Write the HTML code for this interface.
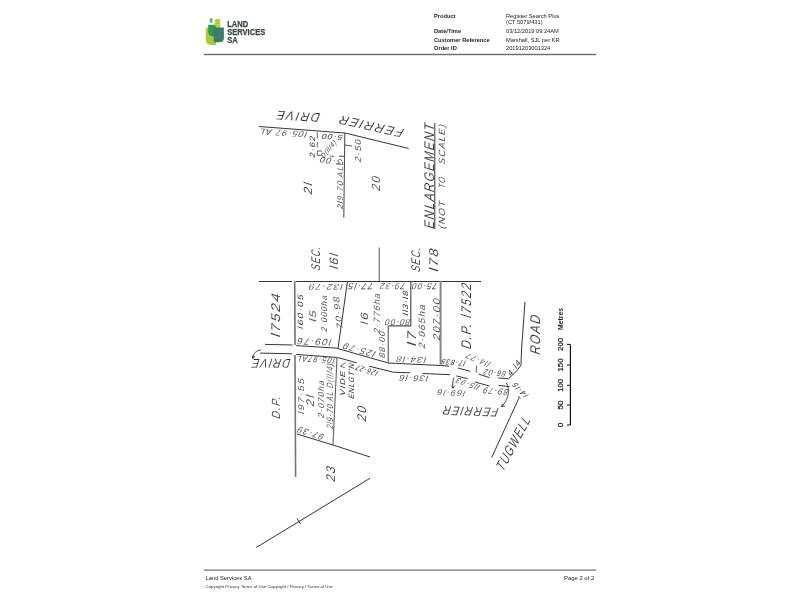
<!DOCTYPE html>
<html><head><meta charset="utf-8"><style>
html,body{margin:0;padding:0;background:#fff;}
body{width:800px;height:600px;position:relative;overflow:hidden;font-family:"Liberation Sans",sans-serif;}
svg{position:absolute;left:0;top:0;will-change:transform;}
svg text{font-family:"Liberation Sans",sans-serif;}
</style></head><body>
<svg width="800" height="600" viewBox="0 0 800 600">
<path d="M205.8,29.4 Q205.8,27.6 207.6,27.6 H216.2 V44.9 H211.2 Q205.8,44.9 205.8,39.2 Z" fill="#a8cb3c"/>
<path d="M214.6,21 Q214.9,19.1 216.8,19.1 H219.9 Q220.1,19.1 220.1,20 V28 H214.1 Z" fill="#b3d336"/>
<path d="M208.2,24.8 H213.2 Q215.9,24.8 215.9,27.6 V37.6 L211.3,35.9 Q208.2,35 208.2,32.2 Z" fill="#2f9a48"/>
<path d="M213.8,27.6 H223.9 V38.2 Q223.9,42.3 219.6,42.3 H213.8 Z" fill="#3d7c6d"/>
<rect x="209.7" y="18" width="2.9" height="4.8" rx="1.1" fill="#8aa38b"/>
<g fill="#3b4348" stroke="#3b4348" stroke-width="0.25" font-size="8.4" font-weight="bold">
<text x="227.2" y="27" textLength="21" lengthAdjust="spacingAndGlyphs">LAND</text>
<text x="227.2" y="34.8" textLength="38" lengthAdjust="spacingAndGlyphs">SERVICES</text>
<text x="227.2" y="42.6" textLength="10.5" lengthAdjust="spacingAndGlyphs">SA</text>
</g>
<rect x="204" y="53.8" width="392" height="1.4" fill="#6b6b6b"/>
<rect x="204" y="569.5" width="392" height="1.3" fill="#7a7a7a"/>
<g font-size="5.7" fill="#222">
<text x="434" y="17.9" font-weight="bold">Product</text>
<text x="434" y="33" font-weight="bold">Date/Time</text>
<text x="434" y="41.5" font-weight="bold">Customer Reference</text>
<text x="434" y="50" font-weight="bold">Order ID</text>
<text x="506" y="17.9">Register Search Plus</text>
<text x="506" y="23.7">(CT 5079/431)</text>
<text x="506" y="33">03/12/2019 09:24AM</text>
<text x="506" y="41.5">Marshall, SJL per KR</text>
<text x="506" y="50">20191203001324</text>
</g>
<text x="205.5" y="580" font-size="5.8" fill="#222">Land Services SA</text>
<text x="205.5" y="588" font-size="4.35" fill="#333">Copyright Privacy Terms of Use Copyright / Privacy / Terms of Use</text>
<text x="594.2" y="580.3" font-size="5.9" fill="#222" text-anchor="end">Page 2 of 2</text>
<polyline points="259,126.5 345,133 408.7,148.5" fill="none" stroke="#333333" stroke-width="1" />
<polyline points="344.8,133 343.8,217.5" fill="none" stroke="#505050" stroke-width="1.1" />
<text transform="translate(298 116.5) rotate(183) skewX(-18)" x="0.75" y="4.50" font-size="12.57" text-anchor="middle" fill="#303030" letter-spacing="1.51" textLength="44.51" lengthAdjust="spacingAndGlyphs" stroke="#fff" stroke-width="0.1">DRIVE</text>
<text transform="translate(371 126.5) rotate(192.4) skewX(-18)" x="0.75" y="4.50" font-size="12.57" text-anchor="middle" fill="#303030" letter-spacing="1.51" textLength="66.51" lengthAdjust="spacingAndGlyphs" stroke="#fff" stroke-width="0.1">FERRIER</text>
<text transform="translate(283 133) rotate(184) skewX(-18)" x="0.53" y="3.15" font-size="8.80" text-anchor="middle" fill="#303030" letter-spacing="1.06" textLength="48.56" lengthAdjust="spacingAndGlyphs" stroke="#fff" stroke-width="0.1">l05·97 AL</text>
<text transform="translate(312 146.5) rotate(-90) skewX(-18)" x="0.46" y="2.75" font-size="7.68" text-anchor="middle" fill="#303030" letter-spacing="0.92" textLength="22.52" lengthAdjust="spacingAndGlyphs">2·62</text>
<text transform="translate(332 137) rotate(184) skewX(-18)" x="0.46" y="2.75" font-size="7.68" text-anchor="middle" fill="#303030" letter-spacing="0.92" textLength="21.92" lengthAdjust="spacingAndGlyphs">5·00</text>
<text transform="translate(330.7 161) rotate(188) skewX(-18)" x="0.50" y="3.00" font-size="8.38" text-anchor="middle" fill="#303030" letter-spacing="1.01" textLength="23.01" lengthAdjust="spacingAndGlyphs" stroke="#fff" stroke-width="0.1">3·00</text>
<text transform="translate(328.5 149) rotate(-50) skewX(-18)" x="0.42" y="2.50" font-size="6.98" text-anchor="middle" fill="#303030" letter-spacing="0.84" textLength="20.84" lengthAdjust="spacingAndGlyphs">D(ll/4)</text>
<polyline points="317.3,132 317.3,138.7" fill="none" stroke="#555" stroke-width="0.9" />
<polyline points="317.3,142 317.3,147.3" fill="none" stroke="#555" stroke-width="0.9" />
<polyline points="322.3,151 317.3,151 317.3,155.3 322.3,155.3" fill="none" stroke="#555" stroke-width="0.9" />
<polyline points="329.7,156.3 334.3,156.3" fill="none" stroke="#555" stroke-width="0.9" />
<polyline points="339,156.3 345,156.3" fill="none" stroke="#555" stroke-width="1.1" />
<text transform="translate(358.3 150.3) rotate(-90) skewX(-18)" x="0.53" y="3.15" font-size="8.80" text-anchor="middle" fill="#303030" letter-spacing="1.06" textLength="23.76" lengthAdjust="spacingAndGlyphs" stroke="#fff" stroke-width="0.1">2·50</text>
<polyline points="345,145 352,146" fill="none" stroke="#333333" stroke-width="0.8" />
<text transform="translate(308 188) rotate(-90) skewX(-18)" x="0.71" y="4.25" font-size="11.87" text-anchor="middle" fill="#303030" letter-spacing="1.42" textLength="12.92" lengthAdjust="spacingAndGlyphs" stroke="#fff" stroke-width="0.1">2l</text>
<text transform="translate(340.3 184.5) rotate(-90) skewX(-18)" x="0.50" y="3.00" font-size="8.38" text-anchor="middle" fill="#303030" letter-spacing="1.01" textLength="49.01" lengthAdjust="spacingAndGlyphs" stroke="#fff" stroke-width="0.1">2l9·70 ALL</text>
<text transform="translate(376 183) rotate(-90) skewX(-18)" x="0.71" y="4.25" font-size="11.87" text-anchor="middle" fill="#303030" letter-spacing="1.42" textLength="15.42" lengthAdjust="spacingAndGlyphs" stroke="#fff" stroke-width="0.1">20</text>
<text transform="translate(428.9 175.7) rotate(-90) skewX(-18)" x="0.84" y="5.00" font-size="13.97" text-anchor="middle" fill="#303030" letter-spacing="1.68" textLength="106.68" lengthAdjust="spacingAndGlyphs" stroke="#fff" stroke-width="0.1">ENLARGEMENT</text>
<polyline points="434.8,123 434.8,229" fill="none" stroke="#333333" stroke-width="1" />
<text transform="translate(442 214.5) rotate(-90) skewX(-18)" x="0.54" y="3.25" font-size="9.08" text-anchor="middle" fill="#303030" letter-spacing="1.09" textLength="29.09" lengthAdjust="spacingAndGlyphs" stroke="#fff" stroke-width="0.1">(NOT</text>
<text transform="translate(442 182.5) rotate(-90) skewX(-18)" x="0.54" y="3.25" font-size="9.08" text-anchor="middle" fill="#303030" letter-spacing="1.09" textLength="12.09" lengthAdjust="spacingAndGlyphs" stroke="#fff" stroke-width="0.1">TO</text>
<text transform="translate(442 144) rotate(-90) skewX(-18)" x="0.54" y="3.25" font-size="9.08" text-anchor="middle" fill="#303030" letter-spacing="1.09" textLength="41.09" lengthAdjust="spacingAndGlyphs" stroke="#fff" stroke-width="0.1">SCALE)</text>
<polyline points="259,281.5 292,281.5" fill="none" stroke="#333333" stroke-width="1.1" />
<polyline points="296,281.5 481,281.5" fill="none" stroke="#333333" stroke-width="1.1" />
<polyline points="379.2,247.5 379.2,281" fill="none" stroke="#606060" stroke-width="1.1" />
<text transform="translate(315.5 258.2) rotate(-90) skewX(-18)" x="0.75" y="4.50" font-size="12.57" text-anchor="middle" fill="#303030" letter-spacing="1.51" textLength="24.51" lengthAdjust="spacingAndGlyphs" stroke="#fff" stroke-width="0.1">SEC.</text>
<text transform="translate(333.6 260.8) rotate(-90) skewX(-18)" x="0.73" y="4.35" font-size="12.15" text-anchor="middle" fill="#303030" letter-spacing="1.46" textLength="17.16" lengthAdjust="spacingAndGlyphs" stroke="#fff" stroke-width="0.1">l6l</text>
<text transform="translate(415 259.3) rotate(-90) skewX(-18)" x="0.75" y="4.50" font-size="12.57" text-anchor="middle" fill="#303030" letter-spacing="1.51" textLength="25.51" lengthAdjust="spacingAndGlyphs" stroke="#fff" stroke-width="0.1">SEC.</text>
<text transform="translate(433.5 259.5) rotate(-90) skewX(-18)" x="0.75" y="4.50" font-size="12.57" text-anchor="middle" fill="#303030" letter-spacing="1.51" textLength="24.51" lengthAdjust="spacingAndGlyphs" stroke="#fff" stroke-width="0.1">l78</text>
<text transform="translate(275.5 314.6) rotate(-90) skewX(-18)" x="0.75" y="4.50" font-size="12.57" text-anchor="middle" fill="#303030" letter-spacing="1.51" textLength="45.51" lengthAdjust="spacingAndGlyphs" stroke="#fff" stroke-width="0.1">l7524</text>
<polyline points="294.7,281 295,345" fill="none" stroke="#707070" stroke-width="1.6" />
<polyline points="295,355 295.6,477" fill="none" stroke="#757575" stroke-width="1.6" />
<polyline points="347.5,281 338,348.3" fill="none" stroke="#333333" stroke-width="1" />
<text transform="translate(325.5 286.8) rotate(180) skewX(-18)" x="0.50" y="3.00" font-size="8.38" text-anchor="middle" fill="#303030" letter-spacing="1.01" textLength="35.01" lengthAdjust="spacingAndGlyphs" stroke="#fff" stroke-width="0.1">l32·79</text>
<text transform="translate(300.2 311.3) rotate(-90) skewX(-18)" x="0.46" y="2.75" font-size="7.68" text-anchor="middle" fill="#303030" letter-spacing="0.92" textLength="35.42" lengthAdjust="spacingAndGlyphs">l60·05</text>
<text transform="translate(313 315.6) rotate(-90) skewX(-18)" x="0.57" y="3.40" font-size="9.50" text-anchor="middle" fill="#303030" letter-spacing="1.14" textLength="12.84" lengthAdjust="spacingAndGlyphs" stroke="#fff" stroke-width="0.1">l5</text>
<text transform="translate(323.5 313.3) rotate(-90) skewX(-18)" x="0.50" y="3.00" font-size="8.38" text-anchor="middle" fill="#303030" letter-spacing="1.01" textLength="37.01" lengthAdjust="spacingAndGlyphs" stroke="#fff" stroke-width="0.1">2·000ha</text>
<text transform="translate(337.8 312.5) rotate(-97) skewX(-18)" x="0.50" y="3.00" font-size="8.38" text-anchor="middle" fill="#303030" letter-spacing="1.01" textLength="34.01" lengthAdjust="spacingAndGlyphs" stroke="#fff" stroke-width="0.1">70·98</text>
<text transform="translate(360.5 286.5) rotate(180) skewX(-18)" x="0.54" y="3.25" font-size="9.08" text-anchor="middle" fill="#303030" letter-spacing="1.09" textLength="26.09" lengthAdjust="spacingAndGlyphs" stroke="#fff" stroke-width="0.1">77·l5</text>
<text transform="translate(392.5 286.5) rotate(180) skewX(-18)" x="0.54" y="3.25" font-size="9.08" text-anchor="middle" fill="#303030" letter-spacing="1.09" textLength="26.09" lengthAdjust="spacingAndGlyphs" stroke="#fff" stroke-width="0.1">79·32</text>
<text transform="translate(424.5 286.5) rotate(180) skewX(-18)" x="0.54" y="3.25" font-size="9.08" text-anchor="middle" fill="#303030" letter-spacing="1.09" textLength="26.09" lengthAdjust="spacingAndGlyphs" stroke="#fff" stroke-width="0.1">75·00</text>
<text transform="translate(364.5 318) rotate(-90) skewX(-18)" x="0.63" y="3.75" font-size="10.47" text-anchor="middle" fill="#303030" letter-spacing="1.26" textLength="13.76" lengthAdjust="spacingAndGlyphs" stroke="#fff" stroke-width="0.1">l6</text>
<text transform="translate(377 313) rotate(-90) skewX(-18)" x="0.54" y="3.25" font-size="9.08" text-anchor="middle" fill="#303030" letter-spacing="1.09" textLength="41.09" lengthAdjust="spacingAndGlyphs" stroke="#fff" stroke-width="0.1">2·776ha</text>
<text transform="translate(405.5 302.8) rotate(-90) skewX(-18)" x="0.46" y="2.75" font-size="7.68" text-anchor="middle" fill="#303030" letter-spacing="0.92" textLength="25.42" lengthAdjust="spacingAndGlyphs">ll3·l8</text>
<text transform="translate(397.5 322.5) rotate(180) skewX(-18)" x="0.54" y="3.25" font-size="9.08" text-anchor="middle" fill="#303030" letter-spacing="1.09" textLength="26.09" lengthAdjust="spacingAndGlyphs" stroke="#fff" stroke-width="0.1">80·00</text>
<polyline points="410.8,281 410.8,325.8 388.3,325.8" fill="none" stroke="#505050" stroke-width="1.2" />
<polyline points="388.3,325.8 388.3,362.5" fill="none" stroke="#808080" stroke-width="1.5" />
<polyline points="440.6,281 440.6,364.6" fill="none" stroke="#888" stroke-width="2" />
<text transform="translate(411 338) rotate(-90) skewX(-18)" x="0.75" y="4.50" font-size="12.57" text-anchor="middle" fill="#303030" letter-spacing="1.51" textLength="16.51" lengthAdjust="spacingAndGlyphs" stroke="#fff" stroke-width="0.1">l7</text>
<text transform="translate(421.5 326) rotate(-90) skewX(-18)" x="0.54" y="3.25" font-size="9.08" text-anchor="middle" fill="#303030" letter-spacing="1.09" textLength="45.09" lengthAdjust="spacingAndGlyphs" stroke="#fff" stroke-width="0.1">2·065ha</text>
<text transform="translate(436.5 319) rotate(-90) skewX(-18)" x="0.59" y="3.50" font-size="9.78" text-anchor="middle" fill="#303030" letter-spacing="1.17" textLength="43.17" lengthAdjust="spacingAndGlyphs" stroke="#fff" stroke-width="0.1">207·00</text>
<text transform="translate(465.8 315.8) rotate(-90) skewX(-18)" x="0.84" y="5.00" font-size="13.97" text-anchor="middle" fill="#303030" letter-spacing="1.68" textLength="66.68" lengthAdjust="spacingAndGlyphs" stroke="#fff" stroke-width="0.1">D.P. l7522</text>
<polyline points="265,344.4 292.5,345" fill="none" stroke="#333333" stroke-width="1" />
<polyline points="296.2,345.6 336.2,348.1 388.3,363 440.6,365.5 449,366.2" fill="none" stroke="#333333" stroke-width="1" />
<polyline points="458,368 470.4,371.4" fill="none" stroke="#333333" stroke-width="1" />
<polyline points="478.8,374.2 489.5,377.6" fill="none" stroke="#333333" stroke-width="1" />
<polyline points="498.5,378 508.6,378.7" fill="none" stroke="#333333" stroke-width="1" />
<path d="M508.6,378.4 C514,374 519,369 521,364.6 L521.5,350" fill="none" stroke="#333333" stroke-width="1" />
<polyline points="260,353.1 291.9,353.75" fill="none" stroke="#333333" stroke-width="1" />
<polyline points="296.2,354.4 337.5,357.5 356.8,362.8" fill="none" stroke="#333333" stroke-width="1" />
<polyline points="369.1,366.2 393.3,372.2 410,372.8" fill="none" stroke="#333333" stroke-width="1" />
<polyline points="345.5,362.6 340.3,366.2 344.8,367.6" fill="none" stroke="#444" stroke-width="0.8" />
<polyline points="423,373.5 450,374.7" fill="none" stroke="#333333" stroke-width="1" />
<polyline points="456.3,375.9 467.6,378.7" fill="none" stroke="#333333" stroke-width="1" />
<polyline points="474.9,382 489.5,386" fill="none" stroke="#333333" stroke-width="1" />
<polyline points="498.5,385.4 509.7,386.6" fill="none" stroke="#333333" stroke-width="1" />
<path d="M253.1,358.1 C253.5,353 256,350.5 261.2,350" fill="none" stroke="#333333" stroke-width="0.9" />
<path d="M252.8,358.6 l-0.3,-3 M252.8,358.6 l1.8,-2.4" fill="none" stroke="#333333" stroke-width="0.9" />
<text transform="translate(314 341.8) rotate(182) skewX(-18)" x="0.54" y="3.25" font-size="9.08" text-anchor="middle" fill="#303030" letter-spacing="1.09" textLength="35.09" lengthAdjust="spacingAndGlyphs" stroke="#fff" stroke-width="0.1">l09·76</text>
<text transform="translate(271 363.4) rotate(180) skewX(-18)" x="0.75" y="4.50" font-size="12.57" text-anchor="middle" fill="#303030" letter-spacing="1.51" textLength="39.51" lengthAdjust="spacingAndGlyphs" stroke="#fff" stroke-width="0.1">DRIVE</text>
<text transform="translate(359 350) rotate(196) skewX(-18)" x="0.54" y="3.25" font-size="9.08" text-anchor="middle" fill="#303030" letter-spacing="1.09" textLength="34.09" lengthAdjust="spacingAndGlyphs" stroke="#fff" stroke-width="0.1">l25·79</text>
<text transform="translate(382.3 344.3) rotate(-90) skewX(-18)" x="0.50" y="3.00" font-size="8.38" text-anchor="middle" fill="#303030" letter-spacing="1.01" textLength="27.51" lengthAdjust="spacingAndGlyphs" stroke="#fff" stroke-width="0.1">88·00</text>
<text transform="translate(411 359.6) rotate(182) skewX(-18)" x="0.50" y="3.00" font-size="8.38" text-anchor="middle" fill="#303030" letter-spacing="1.01" textLength="31.01" lengthAdjust="spacingAndGlyphs" stroke="#fff" stroke-width="0.1">l34·l8</text>
<text transform="translate(366.5 370.5) rotate(196) skewX(-18)" x="0.46" y="2.75" font-size="7.68" text-anchor="middle" fill="#303030" letter-spacing="0.92" textLength="22.92" lengthAdjust="spacingAndGlyphs">l26·27</text>
<text transform="translate(413.5 378.2) rotate(182) skewX(-18)" x="0.50" y="3.00" font-size="8.38" text-anchor="middle" fill="#303030" letter-spacing="1.01" textLength="30.01" lengthAdjust="spacingAndGlyphs" stroke="#fff" stroke-width="0.1">l36·l6</text>
<text transform="translate(453.2 362.6) rotate(185) skewX(-18)" x="0.49" y="2.90" font-size="8.10" text-anchor="middle" fill="#303030" letter-spacing="0.97" textLength="24.97" lengthAdjust="spacingAndGlyphs">l7·835</text>
<text transform="translate(478 360) rotate(203) skewX(-18)" x="0.50" y="3.00" font-size="8.38" text-anchor="middle" fill="#303030" letter-spacing="1.01" textLength="26.01" lengthAdjust="spacingAndGlyphs" stroke="#fff" stroke-width="0.1">ll4·77</text>
<text transform="translate(494.8 373) rotate(186) skewX(-18)" x="0.50" y="3.00" font-size="8.38" text-anchor="middle" fill="#303030" letter-spacing="1.01" textLength="23.01" lengthAdjust="spacingAndGlyphs" stroke="#fff" stroke-width="0.1">86·02</text>
<text transform="translate(514 367.7) rotate(-55) skewX(-18)" x="0.46" y="2.75" font-size="7.68" text-anchor="middle" fill="#303030" letter-spacing="0.92" textLength="17.92" lengthAdjust="spacingAndGlyphs">4·l4</text>
<text transform="translate(467.5 384) rotate(200) skewX(-18)" x="0.50" y="3.00" font-size="8.38" text-anchor="middle" fill="#303030" letter-spacing="1.01" textLength="25.01" lengthAdjust="spacingAndGlyphs" stroke="#fff" stroke-width="0.1">ll5·93</text>
<text transform="translate(495.6 391.3) rotate(185) skewX(-18)" x="0.54" y="3.25" font-size="9.08" text-anchor="middle" fill="#303030" letter-spacing="1.09" textLength="26.09" lengthAdjust="spacingAndGlyphs" stroke="#fff" stroke-width="0.1">89·79</text>
<text transform="translate(451 393) rotate(183) skewX(-18)" x="0.50" y="3.00" font-size="8.38" text-anchor="middle" fill="#303030" letter-spacing="1.01" textLength="29.01" lengthAdjust="spacingAndGlyphs" stroke="#fff" stroke-width="0.1">l69·l6</text>
<text transform="translate(470.5 411.5) rotate(182) skewX(-18)" x="0.75" y="4.50" font-size="12.57" text-anchor="middle" fill="#303030" letter-spacing="1.51" textLength="56.51" lengthAdjust="spacingAndGlyphs" stroke="#fff" stroke-width="0.1">FERRIER</text>
<text transform="translate(520 390) rotate(-135) skewX(-18)" x="0.46" y="2.75" font-size="7.68" text-anchor="middle" fill="#303030" letter-spacing="0.92" textLength="18.92" lengthAdjust="spacingAndGlyphs">l4·l5</text>
<text transform="translate(315.6 359.7) rotate(183) skewX(-18)" x="0.50" y="3.00" font-size="8.38" text-anchor="middle" fill="#303030" letter-spacing="1.01" textLength="38.51" lengthAdjust="spacingAndGlyphs" stroke="#fff" stroke-width="0.1">l05·97AL</text>
<text transform="translate(300.6 395.7) rotate(-90) skewX(-18)" x="0.50" y="3.00" font-size="8.38" text-anchor="middle" fill="#303030" letter-spacing="1.01" textLength="37.01" lengthAdjust="spacingAndGlyphs" stroke="#fff" stroke-width="0.1">l97·55</text>
<text transform="translate(309.9 400.3) rotate(-90) skewX(-18)" x="0.67" y="4.00" font-size="11.17" text-anchor="middle" fill="#303030" letter-spacing="1.34" textLength="12.64" lengthAdjust="spacingAndGlyphs" stroke="#fff" stroke-width="0.1">2l</text>
<text transform="translate(321.1 398.9) rotate(-90) skewX(-18)" x="0.50" y="3.00" font-size="8.38" text-anchor="middle" fill="#303030" letter-spacing="1.01" textLength="38.01" lengthAdjust="spacingAndGlyphs" stroke="#fff" stroke-width="0.1">2·070ha</text>
<text transform="translate(329.6 396) rotate(-90) skewX(-18)" x="0.54" y="3.25" font-size="9.08" text-anchor="middle" fill="#303030" letter-spacing="1.09" textLength="66.09" lengthAdjust="spacingAndGlyphs" stroke="#fff" stroke-width="0.1">2l9·70 AL D(ll/4)</text>
<polyline points="337,357.5 333,445" fill="none" stroke="#606060" stroke-width="1.1" />
<text transform="translate(342.5 383) rotate(-90) skewX(-18)" x="0.42" y="2.50" font-size="6.98" text-anchor="middle" fill="#303030" letter-spacing="0.84" textLength="25.84" lengthAdjust="spacingAndGlyphs">VIDE</text>
<text transform="translate(351.3 380.8) rotate(-90) skewX(-18)" x="0.46" y="2.75" font-size="7.68" text-anchor="middle" fill="#303030" letter-spacing="0.92" textLength="35.92" lengthAdjust="spacingAndGlyphs">ENLGT'N</text>
<text transform="translate(361.3 413.3) rotate(-90) skewX(-18)" x="0.75" y="4.50" font-size="12.57" text-anchor="middle" fill="#303030" letter-spacing="1.51" textLength="16.51" lengthAdjust="spacingAndGlyphs" stroke="#fff" stroke-width="0.1">20</text>
<text transform="translate(275.5 407) rotate(-90) skewX(-18)" x="0.71" y="4.25" font-size="11.87" text-anchor="middle" fill="#303030" letter-spacing="1.42" textLength="23.42" lengthAdjust="spacingAndGlyphs" stroke="#fff" stroke-width="0.1">D.P.</text>
<text transform="translate(310.5 433.3) rotate(198) skewX(-18)" x="0.54" y="3.25" font-size="9.08" text-anchor="middle" fill="#303030" letter-spacing="1.09" textLength="28.09" lengthAdjust="spacingAndGlyphs" stroke="#fff" stroke-width="0.1">97·39</text>
<polyline points="297,434 333,445 370,457" fill="none" stroke="#333333" stroke-width="1" />
<text transform="translate(330.5 473.5) rotate(-90) skewX(-18)" x="0.75" y="4.50" font-size="12.57" text-anchor="middle" fill="#303030" letter-spacing="1.51" textLength="16.51" lengthAdjust="spacingAndGlyphs" stroke="#fff" stroke-width="0.1">23</text>
<polyline points="256.25,547.5 370,478.25" fill="none" stroke="#333333" stroke-width="1" />
<polyline points="297,518.5 300.5,524" fill="none" stroke="#333333" stroke-width="1" />
<polyline points="525,301.7 521.5,350" fill="none" stroke="#333333" stroke-width="1" />
<text transform="translate(535 334.5) rotate(-90) skewX(-18)" x="0.84" y="5.00" font-size="13.97" text-anchor="middle" fill="#303030" letter-spacing="1.68" textLength="40.68" lengthAdjust="spacingAndGlyphs" stroke="#fff" stroke-width="0.1">ROAD</text>
<polyline points="519.2,397.5 491.7,457.5" fill="none" stroke="#333333" stroke-width="1" />
<polyline points="518.3,395.8 520.5,398.5" fill="none" stroke="#333333" stroke-width="0.8" />
<text transform="translate(513 443) rotate(-62) skewX(-18)" x="0.84" y="5.00" font-size="13.97" text-anchor="middle" fill="#303030" letter-spacing="1.68" textLength="59.68" lengthAdjust="spacingAndGlyphs" stroke="#fff" stroke-width="0.1">TUGWELL</text>
<path d="M506.4,382.6 C510,390 509,399 501.7,406.7" fill="none" stroke="#333333" stroke-width="0.9" />
<path d="M501.7,406.7 l3.2,-0.8 M501.7,406.7 l0.6,-3.2" fill="none" stroke="#333333" stroke-width="0.9" />
<path d="M454,377.6 C452.5,381 452.5,385 453,388.2" fill="none" stroke="#333333" stroke-width="0.9" />
<path d="M453,388.2 l-1.6,-2.6 M453,388.2 l1.6,-2.6" fill="none" stroke="#333333" stroke-width="0.9" />
<polyline points="476.6,365.7 476.2,372.5" fill="none" stroke="#333333" stroke-width="0.8" />
<polyline points="570.4,344.4 570.4,425" fill="none" stroke="#111" stroke-width="1.2" />
<polyline points="566.9,344.4 570.4,344.4" fill="none" stroke="#111" stroke-width="1" />
<text transform="translate(560.5 344.4) rotate(-90)" x="0.00" y="2.50" font-size="6.98" text-anchor="middle" fill="#222" textLength="13.00" lengthAdjust="spacingAndGlyphs" stroke="#222" stroke-width="0.25">200</text>
<polyline points="566.9,365 570.4,365" fill="none" stroke="#111" stroke-width="1" />
<text transform="translate(560.5 365) rotate(-90)" x="0.00" y="2.50" font-size="6.98" text-anchor="middle" fill="#222" textLength="13.00" lengthAdjust="spacingAndGlyphs" stroke="#222" stroke-width="0.25">150</text>
<polyline points="566.9,385.3 570.4,385.3" fill="none" stroke="#111" stroke-width="1" />
<text transform="translate(560.5 385.3) rotate(-90)" x="0.00" y="2.50" font-size="6.98" text-anchor="middle" fill="#222" textLength="13.00" lengthAdjust="spacingAndGlyphs" stroke="#222" stroke-width="0.25">100</text>
<polyline points="566.9,405 570.4,405" fill="none" stroke="#111" stroke-width="1" />
<text transform="translate(560.5 405) rotate(-90)" x="0.00" y="2.50" font-size="6.98" text-anchor="middle" fill="#222" textLength="9.00" lengthAdjust="spacingAndGlyphs" stroke="#222" stroke-width="0.25">50</text>
<polyline points="566.9,425 570.4,425" fill="none" stroke="#111" stroke-width="1" />
<text transform="translate(560.5 425) rotate(-90)" x="0.00" y="2.50" font-size="6.98" text-anchor="middle" fill="#222" textLength="4.60" lengthAdjust="spacingAndGlyphs" stroke="#222" stroke-width="0.25">0</text>
<text transform="translate(560.5 319) rotate(-90)" x="0.00" y="2.50" font-size="6.98" text-anchor="middle" fill="#222" font-weight="bold" textLength="22.00" lengthAdjust="spacingAndGlyphs">Metres</text>
</svg>
</body></html>
